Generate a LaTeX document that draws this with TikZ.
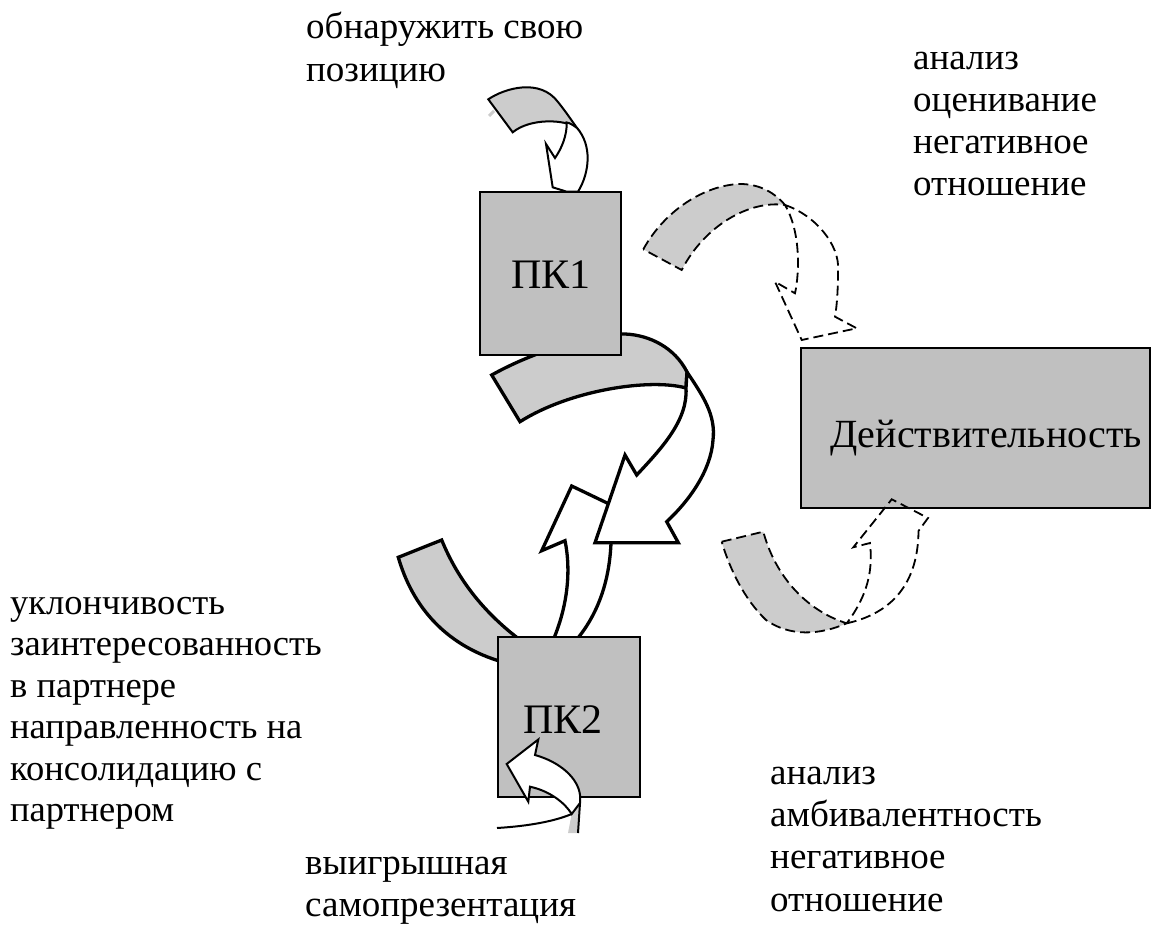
\documentclass[tikz,border=0pt]{standalone}
\usepackage{fontspec}
\setmainfont{Liberation Serif}
\definecolor{boxgray}{HTML}{C0C0C0}
\definecolor{bandgray}{HTML}{CCCCCC}
\begin{document}
\begin{tikzpicture}[x=1pt,y=-1pt,line join=miter,
  box/.style={draw=black,fill=boxgray,line width=1.4pt,inner sep=0pt},
  band/.style={draw=black,fill=bandgray},
  front/.style={draw=black,fill=white},
  thick3/.style={line width=3.3pt},
  thin2/.style={line width=2pt},
  dsh/.style={line width=1.8pt,dash pattern=on 10pt off 5pt},
  lbl/.style={font=\fontsize{37}{42.3}\selectfont,align=left,anchor=base west,inner sep=0pt},
  boxlbl/.style={font=\fontsize{42}{48}\selectfont,anchor=base,inner sep=0pt}]
\path[use as bounding box] (0,0) rectangle (1159,933);

% big arrow PK1 -> PK2, back band (behind PK1)
\draw[band,thick3] (491.7,375) .. controls (540,348) and (600,333) .. (625,334)
  .. controls (650,335) and (675,348) .. (687,372) -- (686,388)
  .. controls (650,378) and (570,390) .. (520,421.7) -- cycle;

\node[box,minimum width=141pt,minimum height=163pt] (pk1) at (550.5,273.5) {};
\node[boxlbl] (pk1t) at (551,289) {ПК1};

% small arrow above PK1
\draw[bandgray,line width=3pt] (489,116) -- (494,111);
\draw[band,thin2] (488.3,99.3) .. controls (505,88) and (540,78) .. (558,102)
  .. controls (566,112) and (572,121) .. (577,128)
  .. controls (565,119) and (530,118) .. (512.7,132.3) -- cycle;
\draw[front,thin2] (566.7,122.5) .. controls (567,135) and (562,148) .. (555,158)
  -- (546,144) -- (552.7,187.3) -- (566.7,191.7) -- (578,191.7)
  .. controls (590,172) and (592,145) .. (577,128)
  .. controls (573,125) and (570,123) .. (566.7,122.5) -- cycle;

% upward arrow PK2 -> PK1
\draw[band,thick3] (398.3,557.3) -- (441.7,540) .. controls (458,580) and (485,615) .. (527,645)
  -- (510,664) .. controls (445,648) and (412,605) .. (398.3,557.3) -- cycle;
\draw[front,thick3] (551,645) .. controls (566,612) and (572,575) .. (565,540.7)
  -- (541.7,550.7) -- (571.7,486) -- (630,514) -- (611,522)
  .. controls (613,570) and (602,612) .. (572,645) -- cycle;

% big arrow front
\draw[front,thick3] (687,372) .. controls (703,396) and (716,415) .. (713,440)
  .. controls (711,470) and (690,500) .. (666.7,521.7) -- (678.3,542.7)
  -- (595,542.7) -- (625,455) -- (636.7,475)
  .. controls (662,448) and (688,420) .. (686,388) -- cycle;

\node[box,minimum width=142pt,minimum height=160pt] (pk2) at (569,717) {};
\node[boxlbl] (pk2t) at (563,733) {ПК2};

% small arrow at PK2
\fill[bandgray] (571.7,814) -- (580,803) -- (578,833) -- (568,833) -- cycle;
\draw[thin2] (580,803) -- (578,833);
\draw[thin2] (497,828) .. controls (530,826) and (555,821) .. (571.7,814);
\draw[front,thin2] (571.7,814) .. controls (565,803) and (550,791) .. (530,786.7)
  -- (528.3,801.7) -- (506.7,764) -- (538.3,739.5) -- (535,755)
  .. controls (560,762) and (578,778) .. (580,795) -- (580,803) -- cycle;

% reality box
\node[box,minimum width=349pt,minimum height=160pt] (real) at (975.5,428) {};
\node[boxlbl,font=\fontsize{40}{46}\selectfont] (realt) at (986,447) {Действительность};

% dashed arrow top right
\draw[band,dsh] (643.3,249.3) .. controls (665,210) and (705,185) .. (740,184)
  .. controls (760,184) and (775,193) .. (785,205)
  .. controls (750,200) and (705,225) .. (681.7,270) -- cycle;
\draw[dsh] (785,205) .. controls (815,215) and (840,245) .. (838,270)
  .. controls (838,290) and (837,305) .. (835,316.7) -- (856.7,328.3)
  -- (801.7,340) -- (775,281.7) -- (795,293.3)
  .. controls (800,270) and (800,230) .. (785,205);

% dashed arrow bottom right
\draw[band,dsh] (721.7,541.7) -- (763.3,531.7) .. controls (775,575) and (805,610) .. (846.7,623.3)
  .. controls (820,635) and (790,637) .. (766,620)
  .. controls (745,600) and (730,570) .. (721.7,541.7) -- cycle;
\draw[dsh] (846.7,623.3) .. controls (885,615) and (918,590) .. (918.5,531)
  -- (928,518) -- (891.7,499.3) -- (853.3,547.3) -- (870,543)
  .. controls (873,570) and (868,595) .. (846.7,623.3);

% labels (anchor = baseline of the last line)
\node[lbl] (t1) at (306,81.3) {обнаружить свою\\позицию};
\node[lbl] (t2) at (913,196) {анализ\\оценивание\\негативное\\отношение};
\node[lbl,font=\fontsize{36.5}{41.5}\selectfont] (t3) at (10,821.5) {уклончивость\\заинтересованность\\в партнере\\направленность на\\консолидацию с\\партнером};
\node[lbl] (t4) at (770,911) {анализ\\амбивалентность\\негативное\\отношение};
\node[lbl] (t5) at (305,916.3) {выигрышная\\самопрезентация};
\end{tikzpicture}
\end{document}
